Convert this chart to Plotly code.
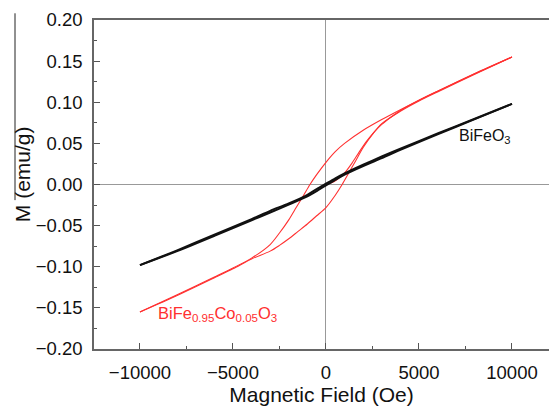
import plotly.graph_objects as go

# BiFeO3 hysteresis loop (field in Oe, magnetisation in emu/g)
bfo_down_h = [10000, 8000, 6000, 4000, 3000, 2000, 1000, 500, 0, -500, -1000, -2000, -3000, -4000, -6000, -8000, -10000]
bfo_down_m = [0.098, 0.080, 0.062, 0.0435, 0.034, 0.024, 0.0135, 0.0075, 0.001, -0.0055, -0.0125, -0.023, -0.032, -0.042, -0.061, -0.080, -0.098]
bfo_up_h = [-10000, -8000, -6000, -4000, -3000, -2000, -1000, -500, 0, 500, 1000, 2000, 3000, 4000, 6000, 8000, 10000]
bfo_up_m = [-0.098, -0.081, -0.0625, -0.0435, -0.034, -0.0245, -0.0145, -0.008, -0.001, 0.0055, 0.0120, 0.0225, 0.032, 0.042, 0.061, 0.0795, 0.098]

# BiFe0.95Co0.05O3: initial curve, descending and ascending branches
bfco_init_h = [0, 300, 600, 1000, 1400, 1800, 2200, 2600, 3000, 3500, 4000, 5000, 6000, 8000, 10000]
bfco_init_m = [0.0, 0.002, 0.006, 0.014, 0.026, 0.040, 0.053, 0.064, 0.073, 0.082, 0.090, 0.1025, 0.1135, 0.1345, 0.155]
bfco_down_h = [10000, 8000, 6000, 5000, 4000, 3000, 2000, 1000, 500, 0, -500, -860, -1200, -1600, -2000, -2500, -3000, -4000, -5000, -6000, -8000, -10000]
bfco_down_m = [0.155, 0.135, 0.1135, 0.1025, 0.091, 0.079, 0.066, 0.050, 0.040, 0.027, 0.012, 0.0, -0.013, -0.028, -0.043, -0.059, -0.073, -0.0895, -0.1015, -0.1125, -0.134, -0.155]
bfco_up_h = [-10000, -8000, -6000, -5000, -4000, -3000, -2500, -2000, -1500, -1000, -500, 0, 500, 870, 1200, 1600, 2000, 2500, 3000, 4000, 5000, 6000, 8000, 10000]
bfco_up_m = [-0.155, -0.135, -0.1135, -0.1025, -0.0905, -0.081, -0.074, -0.066, -0.057, -0.048, -0.038, -0.028, -0.013, 0.0, 0.013, 0.029, 0.045, 0.061, 0.074, 0.089, 0.1015, 0.1125, 0.134, 0.155]

x_ticks = [-10000, -5000, 0, 5000, 10000]
y_ticks = [-0.20, -0.15, -0.10, -0.05, 0.00, 0.05, 0.10, 0.15, 0.20]


def tick_text(v, fmt):
    # typographic minus sign for negative tick values
    return fmt.format(v).replace("-", "\u2212")


FONT = "Liberation Sans, Arial, sans-serif"
RED = "#ff3030"
TEXT = "#111111"

fig = go.Figure()
for hx, my in [(bfco_init_h, bfco_init_m), (bfco_down_h, bfco_down_m), (bfco_up_h, bfco_up_m)]:
    fig.add_trace(go.Scatter(x=hx, y=my, mode="lines", line=dict(color=RED, width=1.1, shape="spline", smoothing=0.8)))
for hx, my in [(bfo_down_h, bfo_down_m), (bfo_up_h, bfo_up_m)]:
    fig.add_trace(go.Scatter(x=hx, y=my, mode="lines", line=dict(color=TEXT, width=2.0, shape="spline", smoothing=0.8)))

axis_common = dict(
    showgrid=False, showline=True, linecolor="#666666", linewidth=1.5,
    ticks="inside", ticklen=6, tickwidth=1.2, tickcolor="#555555",
    zeroline=True, zerolinecolor="#999999", zerolinewidth=1,
    tickfont=dict(family=FONT, size=18.5, color=TEXT),
)

fig.update_layout(
    width=549, height=406,
    margin=dict(l=94, r=0, t=20, b=57),
    paper_bgcolor="white", plot_bgcolor="white",
    showlegend=False,
    font=dict(family=FONT, color=TEXT),
    xaxis=dict(
        range=[-12470, 11990], tickvals=x_ticks, ticktext=[tick_text(v, "{:d}") for v in x_ticks],
        mirror=True, ticklabelstandoff=6,
        minor=dict(ticks="inside", dtick=2500, ticklen=3.5, tickcolor="#555555", showgrid=False),
        title=dict(text="Magnetic Field (Oe)", font=dict(family=FONT, size=21, color=TEXT), standoff=5),
        **axis_common,
    ),
    yaxis=dict(
        range=[-0.2, 0.2], tickvals=y_ticks, ticktext=[tick_text(v, "{:.2f}") for v in y_ticks],
        ticklabelstandoff=6,
        minor=dict(ticks="inside", dtick=0.025, ticklen=3.5, tickcolor="#555555", showgrid=False),
        **axis_common,
    ),
    annotations=[
        dict(x=8550, y=0.058, xref="x", yref="y", text="BiFeO<sub>3</sub>", showarrow=False,
             font=dict(family=FONT, size=16, color=TEXT)),
        dict(x=-5830, y=-0.157, xref="x", yref="y",
             text="BiFe<sub>0.95</sub>Co<sub>0.05</sub>O<sub>3</sub>", showarrow=False,
             font=dict(family=FONT, size=16.5, color=RED)),
        dict(x=-72 / 455, y=(349 - 174) / 329.3, xref="paper", yref="paper", text="M (emu/g)",
             textangle=-90, showarrow=False, xanchor="center", yanchor="middle",
             font=dict(family=FONT, size=21, color=TEXT)),
    ],
    shapes=[
        # thin rule running down beside the y-axis title
        dict(type="line", xref="paper", yref="paper",
             x0=(15 - 94) / 455, x1=(15 - 94) / 455,
             y0=(349 - 13) / 329.3, y1=(349 - 200) / 329.3,
             line=dict(color="#222222", width=1)),
    ],
)

fig.write_html("out.html")
